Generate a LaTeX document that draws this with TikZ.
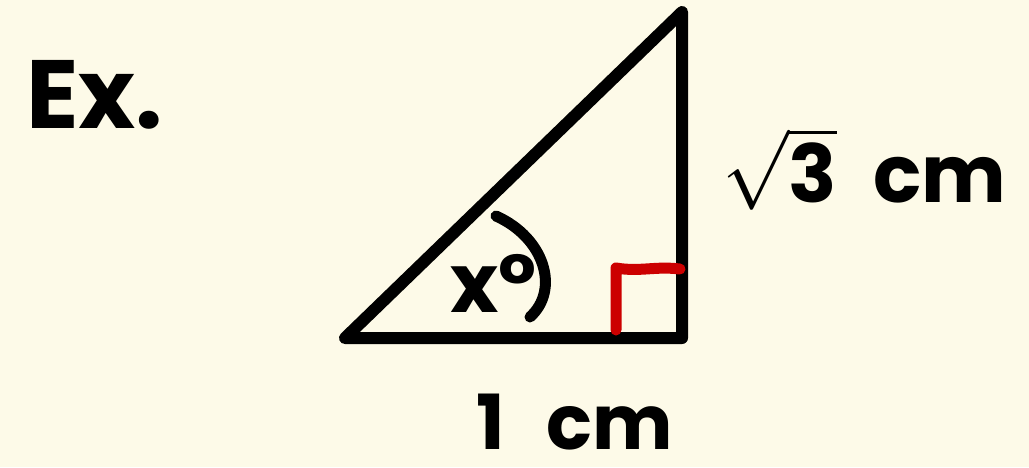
\documentclass[tikz,border=0pt]{standalone}
\usepackage{fix-cm}
\usepackage{fontspec}
\setmainfont{Poppins}
\definecolor{paper}{RGB}{253,250,232}
\definecolor{mark}{RGB}{204,0,0}
\tikzset{
  edge/.style={line width=12pt, line join=round, line cap=round},
  redmark/.style={edge, draw=mark, line width=11pt},
  lbl/.style={inner sep=0pt}
}
\begin{document}
\begin{tikzpicture}[x=1pt,y=-1pt]
\fill[paper] (0,0) rectangle (1029,467);
\useasboundingbox (0,0) rectangle (1029,467);
\coordinate (A) at (345,338);
\coordinate (B) at (682,338);
\coordinate (C) at (682,12);
\draw[edge] (A) -- (B) -- (C) -- cycle;
% right angle mark
\coordinate (r1) at (616,330);
\coordinate (r2) at (616,268);
\coordinate (r3) at (680,269);
\draw[redmark] (r1) -- (r2) .. controls (640,272) and (655,266) .. (r3);
% angle arc
\coordinate (a1) at (496,216);
\coordinate (a2) at (530,317);
\draw[edge, line width=11pt] (a1) .. controls (545,238) and (560,290) .. (a2);
% labels
\node[lbl, anchor=base west, font=\bfseries\fontsize{97}{100}\selectfont] (ex) at (26,128) {Ex.};
\node[lbl, anchor=base west, font=\bfseries\fontsize{82}{86}\selectfont] (xl) at (450,312) {x°};
\node[lbl, anchor=base west, font=\bfseries\fontsize{76}{80}\selectfont] (bot) at (476,449) {1\hspace{0.55em}cm};
\node[lbl, anchor=base west, font=\bfseries\fontsize{80}{84}\selectfont] (side) at (722,202) {$\sqrt{\mbox{\bfseries 3}}$\hspace{0.45em}cm};
\end{tikzpicture}
\end{document}
